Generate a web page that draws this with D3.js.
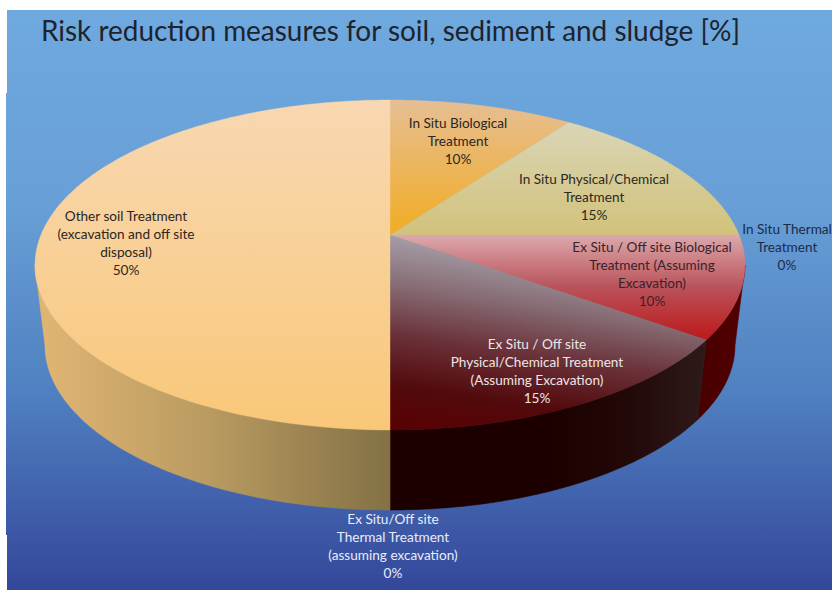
<!DOCTYPE html>
<html><head><meta charset="utf-8">
<script src="https://cdn.jsdelivr.net/npm/d3@7"></script>
<style>html,body{margin:0;padding:0;background:#fff}svg{display:block}</style>
</head><body><div id="chart"></div>
<script>
const titleText = "Risk reduction measures for soil, sediment and sludge [%]";
const categories = [
  "In Situ Biological|Treatment",
  "In Situ Physical/Chemical|Treatment",
  "In Situ Thermal|Treatment",
  "Ex Situ / Off site Biological|Treatment (Assuming|Excavation)",
  "Ex Situ / Off site|Physical/Chemical Treatment|(Assuming Excavation)",
  "Ex Situ/Off site|Thermal Treatment|(assuming excavation)",
  "Other soil Treatment|(excavation and off site|disposal)"
];
const values = [10, 15, 0, 10, 15, 0, 50];

// styling and layout, parallel to the categories
const topStops  = [["#E6BE94","#F2AC22"],["#DAD5B6","#D2C27A"],["#ccc","#ccc"],["#DDA9AC","#B9525A","#BE1818"],["#A59DA7","#866B73","#6A3038","#520A0C","#5A0000"],["#999","#999"],["#F8D8B2","#F9C778"]];
const topSlant  = [0, 0, 0, 0, 0.15, 0, 0];
const sideStops = [["#000","#000"],["#000","#000"],["#000","#000"],["#470000","#520000"],["#2E1A1A","#230808","#1C0000","#1C0000","#1C0000"],["#000","#000"],["#E2B674","#B89A60","#837145"]];
const labelX = [458, 594, 787, 652, 537, 393, 126];
const labelY = [123, 179, 229, 247, 344, 519, 216];
const labelFill = ["#2b2622","#2b2a22","#1c2a48","#3a2228","#ece6e6","#e8ecf8","#2b2622"];

const W = 832, H = 590, cx = 390, apex = [cx, 235];
const svg = d3.select("#chart").append("svg").attr("width", W).attr("height", H);
const defs = svg.append("defs");
const grad = (id, stops, x1, y1, x2, y2) => {
  const g = defs.append("linearGradient").attr("id", id).attr("gradientUnits", "userSpaceOnUse")
    .attr("x1", x1).attr("y1", y1).attr("x2", x2).attr("y2", y2);
  stops.forEach((c, i) => g.append("stop").attr("offset", i / (stops.length - 1)).attr("stop-color", c));
};
grad("bg", ["#6EA9DF","#689FD6","#4F7FC0","#34479A"], 0, 10, 0, 590);

svg.append("rect").attr("x",7).attr("y",10).attr("width",W-7).attr("height",H-10).attr("fill","url(#bg)");
svg.append("rect").attr("x",6).attr("y",93).attr("width",2).attr("height",442).attr("fill","url(#bg)");

// Tilted circle: a projective map turns a pie angle into a point on the ellipse.
const tilt = -30 / 165;
const project = (cy, rx, ry, offs) => a => {
  const u = Math.sin(a), v = -Math.cos(a), d = 1 + tilt * v;
  return [cx + rx * Math.sqrt(1 - tilt * tilt) * u / d, cy + (ry * v + offs) / d];
};
const topP = project(265, 355, 165, -30);
const botP = project(345, 345, 165, -30);
const edge = Math.acos(-30 / 165);           // angle of the ellipse's widest point

const pie = d3.pie().sort(null).value(d => d)(values);
const line = d3.line();
const arcPts = (p, a0, a1) => d3.range(0, 121).map(i => p(a0 + (a1 - a0) * i / 120));

// sides
pie.forEach((d, i) => {
  const a0 = Math.max(d.startAngle, edge), a1 = Math.min(d.endAngle, 2 * Math.PI - edge);
  if (a1 <= a0) return;
  const pts = arcPts(topP, a0, a1).concat(arcPts(botP, a1, a0));
  const xs = pts.map(q => q[0]);
  const x0 = d3.min(xs), x1 = d3.max(xs);
  grad("side" + i, sideStops[i], i === 4 ? x1 : x0, 0, i === 4 ? x0 : x1, 0);
  svg.append("path").attr("d", line(pts) + "Z").attr("fill", `url(#side${i})`)
     .attr("stroke", `url(#side${i})`).attr("stroke-width", .6);
});
// tops
pie.forEach((d, i) => {
  if (d.endAngle <= d.startAngle) return;
  const ring = arcPts(topP, d.startAngle, d.endAngle);
  const all = [apex].concat(ring);
  const ys = ring.map(q => q[1]).concat(apex[1]);
  const y0 = d3.min(ys), y1 = d3.max(ys);
  grad("top" + i, topStops[i], cx, y0, cx - topSlant[i] * (y1 - y0), y1);
  svg.append("path").attr("d", line(all) + "Z").attr("fill", `url(#top${i})`)
     .attr("stroke", `url(#top${i})`).attr("stroke-width", .4);
});

// labels
categories.forEach((c, i) => {
  const lines = c.split("|").concat(values[i] + "%");
  const t = svg.append("text").attr("text-anchor", "middle")
    .attr("font-family", "Lato, 'Open Sans', sans-serif").attr("font-size", 13.6).attr("fill", labelFill[i]);
  lines.forEach((s, j) => t.append("tspan").attr("x", labelX[i]).attr("y", labelY[i] + 4.5 + j * 18.1).text(s));
});

svg.append("text").attr("x", 41).attr("y", 41).attr("font-family", "Lato, 'Open Sans', sans-serif")
  .attr("font-size", 29.5).attr("fill", "#20232c").attr("textLength", 699).attr("lengthAdjust", "spacingAndGlyphs").text(titleText);
</script></body></html>
